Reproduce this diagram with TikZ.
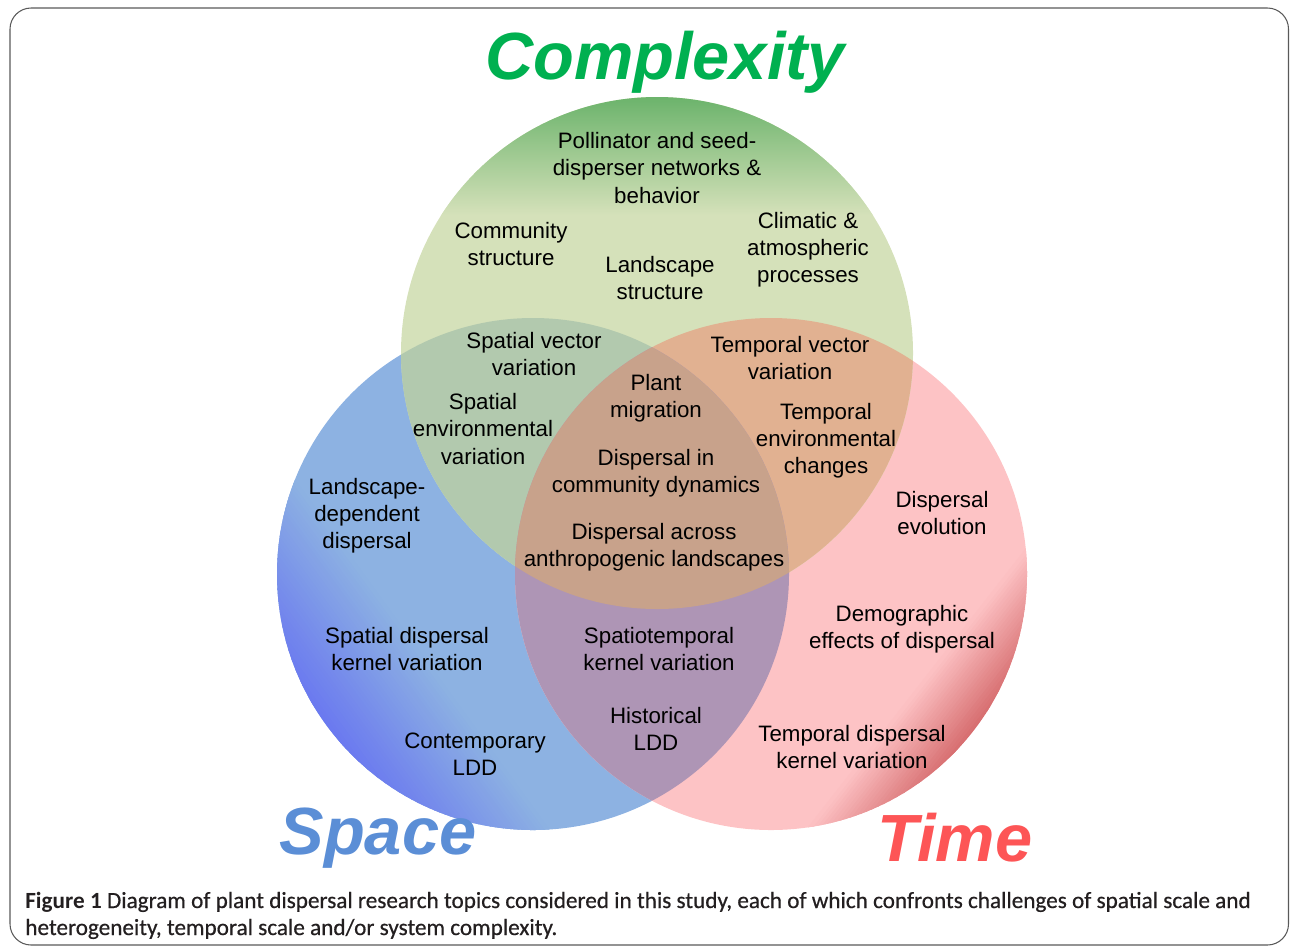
\documentclass[tikz,border=0pt]{standalone}
\usepackage{fontspec}
\setmainfont{Liberation Sans}
\newfontfamily\capfont{Carlito}[UprightFeatures={FakeBold=0.6}]
\definecolor{spacelight}{HTML}{8DB2E2}
\definecolor{spacedark}{HTML}{6A78F0}
\definecolor{timelight}{HTML}{FDC3C5}
\definecolor{timedark}{HTML}{D66C6E}
\definecolor{cplxlight}{HTML}{D5E1BA}
\definecolor{cplxdark}{HTML}{6BB36B}
\definecolor{cplxspace}{HTML}{B2C9AE}
\definecolor{cplxtime}{HTML}{E1B191}
\definecolor{spacetime}{HTML}{AE95B5}
\definecolor{allthree}{HTML}{C8A28B}
\definecolor{cplxword}{HTML}{00B050}
\definecolor{spaceword}{HTML}{5B8ED6}
\definecolor{timeword}{HTML}{FD5556}
\definecolor{captext}{HTML}{231F20}
\begin{document}
\begin{tikzpicture}[x=0.02cm,y=-0.02cm,
    topic/.style={align=center,inner sep=0pt,font=\fontsize{12.7}{15.4}\selectfont},
    heading/.style={inner sep=0pt,font=\fontsize{38}{40}\selectfont\bfseries\itshape},
    captionline/.style={anchor=base west,inner sep=0pt,text=captext,font=\capfont\fontsize{13.2}{15.4}\selectfont}]
\useasboundingbox (0,0) rectangle (1290,947);
\draw[gray!70!black,line width=0.6pt,rounded corners=12] (10,8) rectangle (1288.5,945);

% the three sets
\coordinate (C) at (657,353);
\coordinate (S) at (533,574);
\coordinate (T) at (771,574);
\fill[spacelight] (S) circle[radius=256];
\fill[timelight] (T) circle[radius=256];
\fill[cplxlight] (C) circle[radius=256];
\begin{scope}
  \clip (C) circle[radius=256];
  \fill[cplxspace] (S) circle[radius=256];
  \fill[cplxtime] (T) circle[radius=256];
  \shade[top color=cplxdark,bottom color=cplxlight] (400,96) rectangle (915,215);
\end{scope}
\begin{scope}
  \clip (S) circle[radius=256];
  \fill[spacetime] (T) circle[radius=256];
  \clip (C) circle[radius=256];
  \fill[allthree] (T) circle[radius=256];
\end{scope}
% darker rims, in thin bands
\begin{scope}
  \clip (S) circle[radius=256];
  \begin{scope}[shift={(S)},rotate=36]
    \foreach \k [evaluate=\k as \pct using int(100-2.5*\k)] in {0,...,39}
      \fill[spacedark!\pct!spacelight] (-258+3*\k,-300) rectangle (-254+3*\k,300);
  \end{scope}
\end{scope}
\begin{scope}
  \clip (T) circle[radius=256];
  \begin{scope}[shift={(T)},rotate=-38]
    \foreach \k [evaluate=\k as \pct using int(100-4.2*\k)] in {0,...,23}
      \fill[timedark!\pct!timelight] (254-3*\k,-300) rectangle (258-3*\k,300);
  \end{scope}
\end{scope}

% headings
\node[heading,text=cplxword] (complexity) at (665,62) {Complexity};
\node[heading,text=spaceword] (space) at (378,838) {Space};
\node[heading,text=timeword] (time) at (955,838) {Time};

% topics
\node[topic] (pollinator) at (657,168) {Pollinator and seed-\\disperser networks \&\\behavior};
\node[topic] (community) at (511,244) {Community\\structure};
\node[topic] (landscape) at (660,278) {Landscape\\structure};
\node[topic] (climatic) at (808,250) {Climatic \&\\atmospheric\\processes};
\node[topic] (spvector) at (534,354) {Spatial vector\\variation};
\node[topic] (tmvector) at (790,358) {Temporal vector\\variation};
\node[topic] (migration) at (656,398) {Plant\\migration};
\node[topic] (spenv) at (483,429) {Spatial\\environmental\\variation};
\node[topic] (tmenv) at (826,441) {Temporal\\environmental\\changes};
\node[topic] (commdyn) at (656,473) {Dispersal in\\community dynamics};
\node[topic] (landdep) at (367,516) {Landscape-\\dependent\\dispersal};
\node[topic] (evolution) at (942,513) {Dispersal\\evolution};
\node[topic] (anthro) at (654,547) {Dispersal across\\anthropogenic landscapes};
\node[topic] (spkernel) at (407,649) {Spatial dispersal\\kernel variation};
\node[topic] (sptmkernel) at (659,649) {Spatiotemporal\\kernel variation};
\node[topic] (demography) at (902,629) {Demographic\\effects of dispersal};
\node[topic] (histldd) at (656,729) {Historical\\LDD};
\node[topic] (contldd) at (475,754) {Contemporary\\LDD};
\node[topic] (tmkernel) at (852,747) {Temporal dispersal\\kernel variation};

% caption
\node[captionline] (cap1) at (25,908) {\textbf{Figure 1} Diagram of plant dispersal research topics considered in this study, each of which confronts challenges of spatial scale and};
\node[captionline] (cap2) at (25,935) {heterogeneity, temporal scale and/or system complexity.};
\end{tikzpicture}
\end{document}
